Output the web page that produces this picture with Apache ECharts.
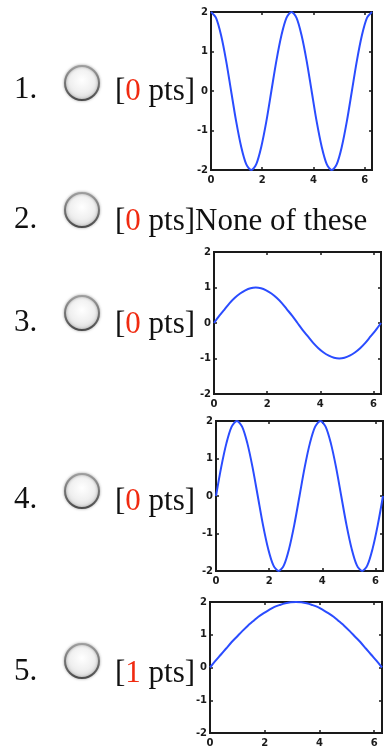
<!DOCTYPE html>
<html>
<head>
<meta charset="utf-8">
<script src="https://cdn.jsdelivr.net/npm/echarts@6/dist/echarts.min.js"></script>
<style>
  html, body { margin: 0; padding: 0; background: #fff; }
  #main { width: 386px; height: 748px; }
</style>
</head>
<body>
<div id="main"></div>
<script>
// x samples (radians, steps of pi/16) shared by every small plot
const xs = [0, 0.196, 0.393, 0.589, 0.785, 0.982, 1.178, 1.374, 1.571, 1.767, 1.963, 2.160, 2.356, 2.553, 2.749, 2.945,
  3.142, 3.338, 3.534, 3.731, 3.927, 4.123, 4.320, 4.516, 4.712, 4.909, 5.105, 5.301, 5.498, 5.694, 5.890, 6.087, 6.283];

// values
const curve1 = [2, 1.85, 1.41, 0.77, 0, -0.77, -1.41, -1.85, -2, -1.85, -1.41, -0.77, 0, 0.77, 1.41, 1.85,
  2, 1.85, 1.41, 0.77, 0, -0.77, -1.41, -1.85, -2, -1.85, -1.41, -0.77, 0, 0.77, 1.41, 1.85, 2];
const curve3 = [0, 0.2, 0.38, 0.56, 0.71, 0.83, 0.92, 0.98, 1, 0.98, 0.92, 0.83, 0.71, 0.56, 0.38, 0.2,
  0, -0.2, -0.38, -0.56, -0.71, -0.83, -0.92, -0.98, -1, -0.98, -0.92, -0.83, -0.71, -0.56, -0.38, -0.2, 0];
const curve4 = [0, 0.77, 1.41, 1.85, 2, 1.85, 1.41, 0.77, 0, -0.77, -1.41, -1.85, -2, -1.85, -1.41, -0.77,
  0, 0.77, 1.41, 1.85, 2, 1.85, 1.41, 0.77, 0, -0.77, -1.41, -1.85, -2, -1.85, -1.41, -0.77, 0];
const curve5 = [0, 0.2, 0.39, 0.58, 0.77, 0.94, 1.11, 1.27, 1.41, 1.55, 1.66, 1.76, 1.85, 1.91, 1.96, 1.99,
  2, 1.99, 1.96, 1.91, 1.85, 1.76, 1.66, 1.55, 1.41, 1.27, 1.11, 0.94, 0.77, 0.58, 0.39, 0.2, 0];

// answer list
const itemNumbers = ['1.', '2.', '3.', '4.', '5.'];
const itemPoints = ['0', '0', '0', '0', '1'];
const itemTexts = ['', 'None of these', '', '', ''];

const X_MAX = 6.2832;

const chart = echarts.init(document.getElementById('main'), null, { renderer: 'canvas' });

// plot boxes: [left, top, width, height]
const boxes = [
  [211, 12, 161, 158],
  [214, 252, 167, 142],
  [216, 421, 167, 150],
  [210, 602, 172, 131]
];
const curves = [curve1, curve3, curve4, curve5];

const ink = '#1a1a1a';
const labelStyle = { color: ink, fontSize: 10, fontWeight: 'bold', fontFamily: 'DejaVu Sans' };

const grids = [];
const xAxes = [];
const yAxes = [];
const series = [];

boxes.forEach((b, i) => {
  grids.push({
    left: b[0], top: b[1], width: b[2], height: b[3],
    show: true, borderColor: ink, borderWidth: 2, backgroundColor: '#fff'
  });
  ['bottom', 'top'].forEach((pos, k) => {
    xAxes.push({
      type: 'value', gridIndex: i, position: pos,
      min: 0, max: X_MAX, interval: 2,
      axisLine: { show: false, onZero: false },
      axisTick: { show: true, inside: true, length: 3, lineStyle: { color: ink, width: 1.5 } },
      axisLabel: Object.assign({ show: k === 0, margin: 5, showMaxLabel: false }, labelStyle),
      splitLine: { show: false }
    });
  });
  ['left', 'right'].forEach((pos, k) => {
    yAxes.push({
      type: 'value', gridIndex: i, position: pos,
      min: -2, max: 2, interval: 1,
      axisLine: { show: false, onZero: false },
      axisTick: { show: true, inside: true, length: 3, lineStyle: { color: ink, width: 1.5 } },
      axisLabel: Object.assign({ show: k === 0, margin: 3 }, labelStyle),
      splitLine: { show: false }
    });
  });
  series.push({
    type: 'line',
    xAxisIndex: i * 2,
    yAxisIndex: i * 2,
    data: xs.map((x, j) => [x, curves[i][j]]),
    smooth: 0.3,
    showSymbol: false,
    silent: true,
    lineStyle: { color: '#2a4cff', width: 2 }
  });
});

// radio buttons and labels
const numberY = [89.5, 219.5, 322.5, 499.5, 671.5];
const ptsY = [91.5, 221.5, 324.5, 501.5, 673.5];
const radioY = [83, 210, 313, 491, 661];

const graphics = [];
itemNumbers.forEach((n, i) => {
  graphics.push({
    type: 'text', x: 14, y: numberY[i], silent: true,
    style: { text: n, fill: '#111', font: '31px "Liberation Serif"', verticalAlign: 'middle' }
  });
  graphics.push({
    type: 'circle', x: 82, y: radioY[i], silent: true,
    shape: { cx: 0, cy: 0, r: 17 },
    style: {
      fill: new echarts.graphic.RadialGradient(0.5, 0.42, 0.6, [
        { offset: 0, color: '#ffffff' },
        { offset: 0.55, color: '#f0f0f0' },
        { offset: 1, color: '#d6d6d6' }
      ]),
      stroke: new echarts.graphic.LinearGradient(0, 0, 0, 1, [
        { offset: 0, color: '#a0a0a0' },
        { offset: 1, color: '#4a4a4a' }
      ]),
      lineWidth: 2,
      shadowBlur: 3,
      shadowColor: 'rgba(0,0,0,0.3)'
    }
  });
  graphics.push({
    type: 'text', x: 115, y: ptsY[i], silent: true,
    style: {
      text: '[{r|' + itemPoints[i] + '} pts]' + itemTexts[i],
      fill: '#111', font: '31px "Liberation Serif"', verticalAlign: 'middle',
      rich: { r: { fill: '#f02a10', font: '31px "Liberation Serif"' } }
    }
  });
});

chart.setOption({
  animation: false,
  backgroundColor: '#fff',
  grid: grids,
  xAxis: xAxes,
  yAxis: yAxes,
  series: series,
  graphic: graphics
});
</script>
</body>
</html>
